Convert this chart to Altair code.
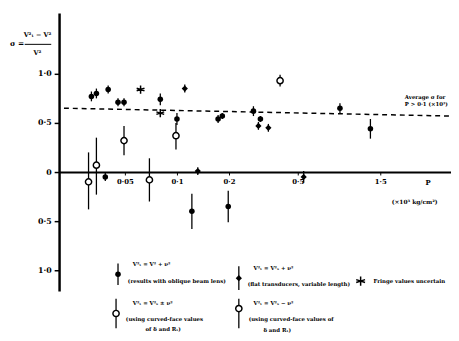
import altair as alt
import pandas as pd

# ---- data ----
# filled circles with error bars
fc_x = [0.0320, 0.0342, 0.0400, 0.0456, 0.0494, 0.0801, 0.100, 0.173, 0.183, 0.122, 0.198, 0.277, 0.304, 0.877, 1.316, 0.0385]
fc_y = [0.77, 0.80, 0.84, 0.71, 0.71, 0.74, 0.54, 0.54, 0.57, -0.40, -0.35, 0.62, 0.54, 0.65, 0.44, -0.05]
fc_e = [0.05, 0.05, 0.04, 0.04, 0.04, 0.06, 0.06, 0.04, 0.03, 0.18, 0.16, 0.05, 0.03, 0.05, 0.10, 0.04]
# filled diamonds with error bars
fd_x = [0.111, 0.132, 0.296, 0.338, 0.541]
fd_y = [0.85, 0.01, 0.47, 0.45, -0.05]
fd_e = [0.04, 0.04, 0.04, 0.04, 0.06]
# asterisks
st_x = [0.0616, 0.0801]
st_y = [0.84, 0.60]
# open circles with error bars
oc_x = [0.395, 0.0494, 0.0987, 0.0342, 0.0308, 0.0693]
oc_y = [0.93, 0.32, 0.37, 0.07, -0.10, -0.08]
oc_lo = [0.87, 0.17, 0.23, -0.23, -0.38, -0.30]
oc_hi = [0.99, 0.47, 0.50, 0.35, 0.20, 0.14]
# average line
avg_x = [0.0222, 3.85]
avg_y = [0.65, 0.57]

x_ticks = [0.05, 0.1, 0.2, 0.5, 1.5]
x_tick_labels = ["0·05", "0·1", "0·2", "0·5", "1·5"]
y_ticks = [-1.0, -0.5, 0.0, 0.5, 1.0]

legend_lines = [
    ["V²ₜ = V² + ν²", "(results with oblique beam lens)"],
    ["V²ₜ = V²ₛ + ν²", "(flat transducers, variable length)"],
    ["Fringe values uncertain"],
    ["V²ₜ = V²ₛ ± ν²", "(using curved-face values", "of δ and Rₜ)"],
    ["V²ₜ = V²ₛ − ν²", "(using curved-face values of", "δ and Rₜ)"],
]
avg_label = ["Average σ for", "P > 0·1 (×10³)"]

FONT = "DejaVu Serif"
STAR = "M0,-1L0,1M-0.95,-0.31L0.95,0.31M-0.95,0.31L0.95,-0.31M-0.6,0L0.6,0"

xscale = alt.Scale(type="log", domain=[0.0208, 3.85])
yscale = alt.Scale(domain=[-1.21, 1.62], nice=False, zero=False)

label_map = "{" + ",".join(f"'{v}':'{l}'" for v, l in zip(x_ticks, x_tick_labels)) + "}"
xaxis = alt.Axis(values=x_ticks, labelExpr=f"{label_map}[''+datum.value]", orient="bottom",
                 offset=-121, domainColor="black", domainWidth=2, tickColor="black",
                 tickSize=3, labelFont=FONT, labelFontSize=7, labelFontWeight="bold",
                 labelColor="black", grid=False, title=None, labelPadding=3)
yaxis = alt.Axis(values=y_ticks,
                 labelExpr="datum.value == 0 ? '0' : replace(format(abs(datum.value), '.1f'), '.', '·')",
                 domainColor="black", domainWidth=2.5, tickColor="black", tickSize=5,
                 tickWidth=1.5, labelFont=FONT, labelFontSize=8, labelFontWeight="bold",
                 labelColor="black", grid=False, title=None, labelPadding=3)

X = alt.X("x:Q", scale=xscale, axis=xaxis)
Y = alt.Y("y:Q", scale=yscale, axis=yaxis)

fc = pd.DataFrame({"x": fc_x, "y": fc_y, "lo": [a - b for a, b in zip(fc_y, fc_e)], "hi": [a + b for a, b in zip(fc_y, fc_e)]})
fd = pd.DataFrame({"x": fd_x, "y": fd_y, "lo": [a - b for a, b in zip(fd_y, fd_e)], "hi": [a + b for a, b in zip(fd_y, fd_e)]})
st = pd.DataFrame({"x": st_x, "y": st_y})
oc = pd.DataFrame({"x": oc_x, "y": oc_y, "lo": oc_lo, "hi": oc_hi})
avg = pd.DataFrame({"x": avg_x, "y": avg_y})

layers = []
layers.append(alt.Chart(avg).mark_line(color="black", strokeDash=[5, 4], strokeWidth=1.5).encode(x=X, y=Y))
for df in (fc, fd, oc):
    layers.append(alt.Chart(df).mark_rule(color="black", strokeWidth=1.3).encode(
        x=X, y=alt.Y("lo:Q", scale=yscale, axis=yaxis), y2="hi:Q"))
layers.append(alt.Chart(fc).mark_point(shape="circle", filled=True, color="black", size=32, opacity=1).encode(x=X, y=Y))
layers.append(alt.Chart(fd).mark_point(shape="diamond", filled=True, color="black", size=40, opacity=1).encode(x=X, y=Y))
layers.append(alt.Chart(oc).mark_point(shape="circle", filled=True, fill="white", stroke="black",
                                       strokeWidth=1.5, size=40, opacity=1).encode(x=X, y=Y))
layers.append(alt.Chart(st).mark_point(shape=STAR, filled=False, color="black", strokeWidth=1.5,
                                       size=70, opacity=1).encode(x=X, y=Y))

# y-axis title: sigma = (Vt^2 - V^2)/V^2
def txt(s, px, py, size=7, align="left", weight="bold"):
    return alt.Chart(pd.DataFrame({"t": [s]})).mark_text(
        font=FONT, fontSize=size, fontWeight=weight, align=align, baseline="middle", color="black"
    ).encode(x=alt.value(px), y=alt.value(py), text="t:N")

layers.append(txt("σ =", -50, 32, 7.5))
layers.append(txt("V²ₜ − V²", -22, 23, 6.5, "center"))
layers.append(alt.Chart(pd.DataFrame({"a": [0]})).mark_rule(color="black", strokeWidth=1).encode(
    x=alt.value(-35), x2=alt.value(-8), y=alt.value(32)))
layers.append(txt("V²", -22, 41, 6.5, "center"))

# average label
layers.append(txt(avg_label[0], 352, 86, 5.5))
layers.append(txt(avg_label[1], 352, 93, 5.5))

# x axis title
layers.append(txt("P", 373, 173, 7))
layers.append(txt("(×10³ kg/cm²)", 362, 193, 6, "center"))

# manual legend
sym_pos = [(60, 266, 255, 277), (183, 270, 258, 282), (307, 273, None, None), (58, 306, 291, 321), (183, 301, 291, 321)]
txt_pos = [[(75, 256), (70, 273)], [(198, 260), (192, 276)], [(320, 273)],
           [(75, 295), (68, 312), (88, 322)], [(198, 295), (193, 312), (208, 323)]]
styles = [
    dict(shape="circle", filled=True, color="black", size=32),
    dict(shape="diamond", filled=True, color="black", size=40),
    dict(shape=STAR, filled=False, color="black", strokeWidth=1.5, size=90),
    dict(shape="circle", filled=True, fill="white", stroke="black", strokeWidth=1.5, size=40),
    dict(shape="circle", filled=True, fill="white", stroke="black", strokeWidth=1.5, size=40),
]
one = pd.DataFrame({"a": [0]})
for i, (sx, sy, b0, b1) in enumerate(sym_pos):
    if b0 is not None:
        layers.append(alt.Chart(one).mark_rule(color="black", strokeWidth=1.3).encode(
            x=alt.value(sx), y=alt.value(b0), y2=alt.value(b1)))
    layers.append(alt.Chart(one).mark_point(opacity=1, **styles[i]).encode(x=alt.value(sx), y=alt.value(sy)))
    for line, (tx, ty) in zip(legend_lines[i], txt_pos[i]):
        layers.append(txt(line, tx, ty, 5.5))

chart = alt.layer(*layers).properties(
    width=399, height=283,
    autosize=alt.AutoSizeParams(type="none"),
    padding={"left": 52, "top": 2, "right": 0, "bottom": 48},
    background="white",
).configure_view(stroke=None)

chart.save("out.html", embed_options={"renderer": "svg", "actions": False})
